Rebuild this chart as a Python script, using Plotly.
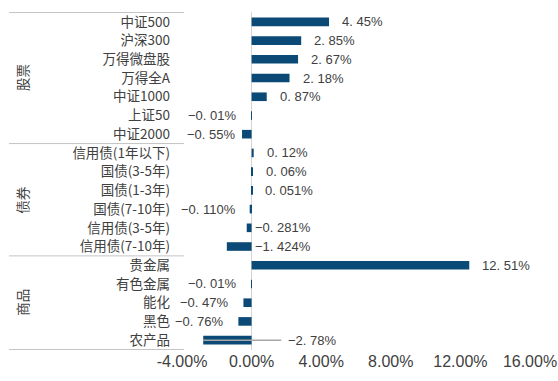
import plotly.graph_objects as go

# ---- data ----
groups = ["股票", "债券", "商品"]
stock_cats = ["中证500", "沪深300", "万得微盘股", "万得全A", "中证1000", "上证50", "中证2000"]
stock_vals = [4.45, 2.85, 2.67, 2.18, 0.87, -0.01, -0.55]
stock_lbls = ["4. 45%", "2. 85%", "2. 67%", "2. 18%", "0. 87%", "−0. 01%", "−0. 55%"]

bond_cats = ["信用债(1年以下)", "国债(3-5年)", "国债(1-3年)", "国债(7-10年)", "信用债(3-5年)", "信用债(7-10年)"]
bond_vals = [0.12, 0.06, 0.051, -0.110, -0.281, -1.424]
bond_lbls = ["0. 12%", "0. 06%", "0. 051%", "−0. 110%", "−0. 281%", "−1. 424%"]

comm_cats = ["贵金属", "有色金属", "能化", "黑色", "农产品"]
comm_vals = [12.51, -0.01, -0.47, -0.76, -2.78]
comm_lbls = ["12. 51%", "−0. 01%", "−0. 47%", "−0. 76%", "−2. 78%"]

x_ticks = [-4, 0, 4, 8, 12, 16]

cats = stock_cats + bond_cats + comm_cats
vals = stock_vals + bond_vals + comm_vals
lbls = stock_lbls + bond_lbls + comm_lbls
group_members = [stock_cats, bond_cats, comm_cats]

# ---- layout constants ----
W, H = 558, 381
ML, MR, MT, MB = 182, 28, 12, 31
PW = W - ML - MR
BAR = "#0b4a76"
TXT = "#404040"
LINE = "#c4c4c4"

fig = go.Figure()
fig.add_trace(go.Bar(
    y=cats, x=vals, orientation="h",
    marker=dict(color=BAR, line=dict(width=0)),
    hoverinfo="x+y",
))

# data labels
right_of_axis = {"信用债(3-5年)", "信用债(7-10年)"}
for c, v, t in zip(cats, vals, lbls):
    font = dict(family="Liberation Sans, Arial", size=13, color=TXT)
    if c == "农产品":
        fig.add_shape(type="line", xref="x", yref="y", x0=v, x1=1.7, y0=c, y1=c,
                      line=dict(color="#a8a8a8", width=1.5), layer="above")
        fig.add_annotation(x=0, y=c, text=t, showarrow=False, xanchor="left",
                           xshift=34, font=font)
    elif c in right_of_axis:
        fig.add_annotation(x=0, y=c, text=t, showarrow=False, xanchor="left",
                           xshift=1, font=font)
    elif v >= 0:
        fig.add_annotation(x=v, y=c, text=t, showarrow=False, xanchor="left",
                           xshift=11, font=font)
    else:
        shift = -4 if c == "中证2000" else -12
        fig.add_annotation(x=v, y=c, text=t, showarrow=False, xanchor="right",
                           xshift=shift, font=font)

# group separators and group labels
def px_to_paper(px):
    return (px - ML) / PW

bounds = [-0.5]
idx = 0
for members in group_members:
    idx += len(members)
    bounds.append(idx - 0.5)
for b in bounds:
    fig.add_shape(type="line", xref="paper", yref="y", x0=px_to_paper(9), x1=px_to_paper(184),
                  y0=b, y1=b, line=dict(color=LINE, width=1), layer="above")

start = 0
for g, members in zip(groups, group_members):
    mid = start + (len(members) - 1) / 2
    fig.add_annotation(xref="paper", yref="y", x=px_to_paper(22), y=mid, text=g,
                       showarrow=False, textangle=-90, xanchor="center", yanchor="middle",
                       font=dict(family="Noto Sans CJK SC", size=13.5, color=TXT))
    start += len(members)

fig.update_layout(
    width=W, height=H,
    margin=dict(l=ML, r=MR, t=MT, b=MB, autoexpand=False),
    paper_bgcolor="white", plot_bgcolor="white",
    bargap=0.54,
    showlegend=False,
    xaxis=dict(
        range=[-4, 16], tickvals=x_ticks,
        ticktext=[f"{v:.2f}%" for v in x_ticks],
        showgrid=False, zeroline=True, zerolinecolor="#d4d4d4", zerolinewidth=1,
        showline=False, ticks="", automargin=False,
        tickfont=dict(family="Liberation Sans, Arial", size=16, color=TXT),
        fixedrange=True,
    ),
    yaxis=dict(
        autorange="reversed", categoryorder="array", categoryarray=cats,
        showgrid=False, zeroline=False, showline=False, ticks="", automargin=False,
        ticklabelstandoff=11,
        tickfont=dict(family="Noto Sans CJK SC", size=13.5, color=TXT),
        fixedrange=True,
    ),
)

fig.write_html("out.html", config={"displayModeBar": False},
               post_script="document.body.style.margin='0';document.body.style.overflow='hidden';")
